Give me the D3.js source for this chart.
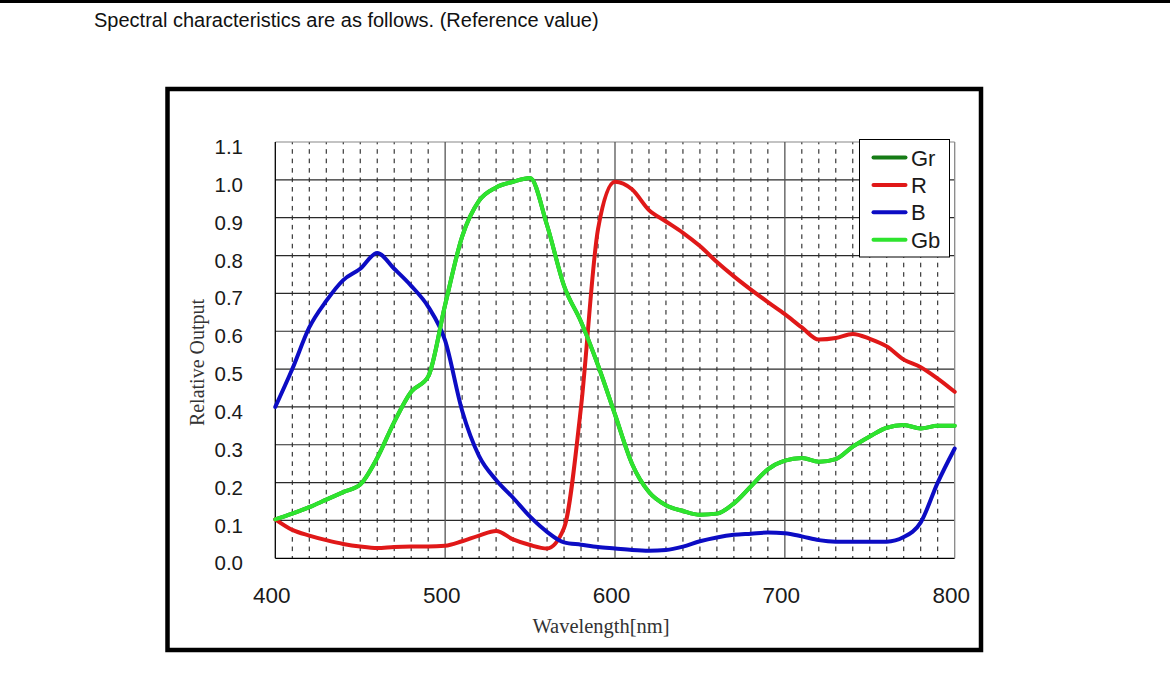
<!DOCTYPE html>
<html>
<head>
<meta charset="utf-8">
<script src="https://cdn.jsdelivr.net/npm/d3@7"></script>
<style>
  body { margin: 0; background: #fff; }
  svg { display: block; }
</style>
</head>
<body>
<div class="spectrum"></div>
<script>
// wavelength samples [nm]
var wavelengths = [400, 410, 420, 430, 440, 450, 460, 470, 480, 490,
                   500, 510, 520, 530, 540, 550, 560, 570, 580, 590,
                   600, 610, 620, 630, 640, 650, 660, 670, 680, 690,
                   700, 710, 720, 730, 740, 750, 760, 770, 780, 790, 800];

// relative output
var rValues = [0.103, 0.075, 0.060, 0.048, 0.038, 0.031, 0.027, 0.030, 0.031, 0.031,
               0.033, 0.045, 0.060, 0.072, 0.050, 0.035, 0.026, 0.080, 0.400, 0.870,
               0.995, 0.975, 0.920, 0.890, 0.860, 0.825, 0.783, 0.745, 0.710, 0.677,
               0.645, 0.610, 0.578, 0.582, 0.593, 0.580, 0.560, 0.525, 0.505, 0.475, 0.440];

var bValues = [0.400, 0.500, 0.610, 0.680, 0.735, 0.765, 0.807, 0.765, 0.720, 0.665,
               0.575, 0.390, 0.270, 0.207, 0.160, 0.110, 0.070, 0.042, 0.036, 0.030,
               0.026, 0.022, 0.020, 0.022, 0.031, 0.045, 0.055, 0.062, 0.065, 0.068,
               0.066, 0.058, 0.048, 0.044, 0.044, 0.044, 0.044, 0.056, 0.095, 0.200, 0.290];

var gbValues = [0.103, 0.118, 0.135, 0.155, 0.175, 0.195, 0.265, 0.360, 0.440, 0.480,
                0.670, 0.850, 0.945, 0.980, 0.995, 1.005, 0.880, 0.720, 0.625, 0.510,
                0.380, 0.250, 0.175, 0.140, 0.125, 0.115, 0.118, 0.145, 0.190, 0.235,
                0.258, 0.265, 0.255, 0.262, 0.295, 0.322, 0.345, 0.352, 0.343, 0.350, 0.350];

// Gr lies under Gb in the picture
var grValues = [0.103, 0.118, 0.135, 0.155, 0.175, 0.195, 0.265, 0.360, 0.440, 0.480,
                0.670, 0.850, 0.945, 0.980, 0.995, 1.005, 0.880, 0.720, 0.625, 0.510,
                0.380, 0.250, 0.175, 0.140, 0.125, 0.115, 0.118, 0.145, 0.190, 0.235,
                0.258, 0.265, 0.255, 0.262, 0.295, 0.322, 0.345, 0.352, 0.343, 0.350, 0.350];

var seriesNames = ["Gr", "R", "B", "Gb"];
var xTicks = [400, 500, 600, 700, 800];
var yTicks = [0, 0.1, 0.2, 0.3, 0.4, 0.5, 0.6, 0.7, 0.8, 0.9, 1.0, 1.1];

var colors = {Gr: "#167c16", R: "#e01818", B: "#0c0cc4", Gb: "#2ee42e"};
var valuesByName = {Gr: grValues, R: rValues, B: bValues, Gb: gbValues};
var drawOrder = ["Gr", "R", "B", "Gb"];

var W = 1170, H = 684;
var plot = {left: 275.3, right: 954.7, top: 142, bottom: 558.3};

var svg = d3.select(".spectrum").append("svg")
    .attr("width", W)
    .attr("height", H);

// page header
svg.append("rect")
    .attr("x", 0).attr("y", 0)
    .attr("width", W).attr("height", 3)
    .attr("fill", "#000");

svg.append("text")
    .attr("x", 94)
    .attr("y", 27)
    .style("font-family", "Arial, 'Liberation Sans', sans-serif")
    .style("font-size", "20px")
    .attr("fill", "#111")
    .text("Spectral characteristics are as follows. (Reference value)");

// scales
var x = d3.scaleLinear().domain([400, 800]).range([plot.left, plot.right]);
var y = d3.scaleLinear().domain([0, 1.1]).range([plot.bottom, plot.top]);

var g = svg.append("g");

// dashed minor verticals every 10 nm
var minor = x.ticks(40).filter(function(d) { return d % 100 !== 0; });
var period = (y(0) - y(0.1)) / 4;
g.append("g").selectAll("line")
    .data(minor)
    .enter().append("line")
    .attr("x1", function(d) { return x(d); })
    .attr("x2", function(d) { return x(d); })
    .attr("y1", y(0))
    .attr("y2", y(1.1))
    .attr("stroke", "#111")
    .attr("stroke-width", 1)
    .attr("stroke-dasharray", "4.6," + (period - 4.6))
    .attr("stroke-dashoffset", 2.3);

// horizontal grid
g.append("g").selectAll("line")
    .data(yTicks)
    .enter().append("line")
    .attr("x1", x(400))
    .attr("x2", x(800))
    .attr("y1", function(d) { return y(d); })
    .attr("y2", function(d) { return y(d); })
    .attr("stroke", function(d) { return d === 1.1 ? "#888" : (d === 0 ? "#000" : "#2a2a2a"); })
    .attr("stroke-width", 1.2);

// major verticals
g.append("g").selectAll("line")
    .data(xTicks)
    .enter().append("line")
    .attr("x1", function(d) { return x(d); })
    .attr("x2", function(d) { return x(d); })
    .attr("y1", y(0))
    .attr("y2", y(1.1))
    .attr("stroke", function(d) { return d === 400 ? "#000" : (d === 800 ? "#888" : "#555"); })
    .attr("stroke-width", 1.3);

// curves
var line = d3.line()
    .x(function(d) { return x(d[0]); })
    .y(function(d) { return y(d[1]); })
    .curve(d3.curveMonotoneX);

g.append("g").selectAll("path")
    .data(drawOrder)
    .enter().append("path")
    .attr("fill", "none")
    .attr("stroke", function(d) { return colors[d]; })
    .attr("stroke-width", 4)
    .attr("stroke-linejoin", "round")
    .attr("stroke-linecap", "round")
    .attr("d", function(d) {
      return line(wavelengths.map(function(w, i) { return [w, valuesByName[d][i]]; }));
    });

// y axis labels
var yAxis = d3.axisLeft(y)
    .tickValues(yTicks)
    .tickFormat(d3.format(".1f"))
    .tickSize(0)
    .tickPadding(0);

var yg = svg.append("g")
    .attr("transform", "translate(243,5)")
    .call(yAxis);
yg.select(".domain").remove();
yg.selectAll("text")
    .style("font-family", "Arial, 'Liberation Sans', sans-serif")
    .style("font-size", "20.5px")
    .attr("fill", "#1a1a1a");

// x axis labels
var xAxis = d3.axisBottom(x)
    .tickValues(xTicks)
    .tickFormat(d3.format("d"))
    .tickSize(0)
    .tickPadding(0);

var xg = svg.append("g")
    .attr("transform", "translate(-4,587)")
    .call(xAxis);
xg.select(".domain").remove();
xg.selectAll("text")
    .style("font-family", "Arial, 'Liberation Sans', sans-serif")
    .style("font-size", "22.5px")
    .attr("fill", "#1a1a1a");

// axis titles
svg.append("text")
    .attr("transform", "translate(204,362.5) rotate(-90)")
    .attr("text-anchor", "middle")
    .style("font-family", "'Times New Roman', 'Liberation Serif', serif")
    .style("font-size", "20px")
    .attr("fill", "#333")
    .text("Relative Output");

svg.append("text")
    .attr("x", 601)
    .attr("y", 633)
    .attr("text-anchor", "middle")
    .style("font-family", "'Times New Roman', 'Liberation Serif', serif")
    .style("font-size", "20.5px")
    .attr("fill", "#333")
    .text("Wavelength[nm]");

// legend
var legend = svg.append("g")
    .attr("class", "legend")
    .attr("transform", "translate(859.5,139.5)");

legend.append("rect")
    .attr("width", 90)
    .attr("height", 117.5)
    .attr("fill", "#fff")
    .attr("stroke", "#000")
    .attr("stroke-width", 1);

var rows = legend.selectAll(".row")
    .data(seriesNames)
    .enter().append("g")
    .attr("class", "row")
    .attr("transform", function(d, i) { return "translate(0," + (18 + i * 27.4) + ")"; });

rows.append("line")
    .attr("x1", 14).attr("x2", 46)
    .attr("y1", 0).attr("y2", 0)
    .attr("stroke", function(d) { return colors[d]; })
    .attr("stroke-width", 4)
    .attr("stroke-linecap", "round");

rows.append("text")
    .attr("x", 51.5)
    .attr("y", 8)
    .style("font-family", "Arial, 'Liberation Sans', sans-serif")
    .style("font-size", "22px")
    .attr("fill", "#1a1a1a")
    .text(function(d) { return d; });

// outer frame
svg.append("rect")
    .attr("x", 167.5)
    .attr("y", 89)
    .attr("width", 813.5)
    .attr("height", 561)
    .attr("fill", "none")
    .attr("stroke", "#000")
    .attr("stroke-width", 4.5);
</script>
</body>
</html>
